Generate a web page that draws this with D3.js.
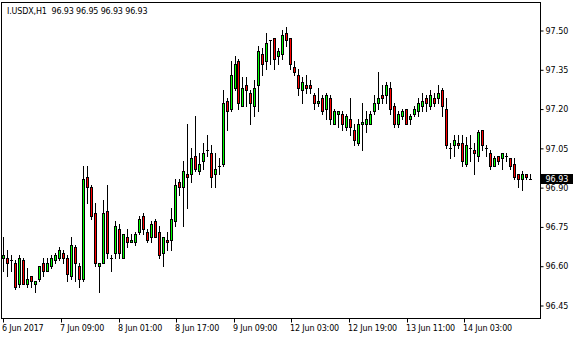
<!DOCTYPE html>
<html>
<head>
<meta charset="utf-8">
<script src="https://cdn.jsdelivr.net/npm/d3@7"></script>
<style>
  body { margin: 0; background: #fff; }
  svg { display: block; }
  text { font-family: "DejaVu Sans", sans-serif; font-size: 8px; fill: #000; }
  .narrow { letter-spacing: -0.15px; }
</style>
</head>
<body>
<svg id="chart" width="580" height="340"></svg>
<script>
// I.USDX H1 bars (oldest first)
var symbol = "I.USDX,H1";
var open = [96.63,96.63,96.62,96.61,96.53,96.62,96.53,96.56,96.53,96.55,
  96.61,96.58,96.60,96.62,96.63,96.65,96.63,96.56,96.67,96.60,
  96.55,96.94,96.90,96.80,96.60,96.61,96.81,96.63,96.65,96.74,
  96.63,96.71,96.69,96.69,96.73,96.79,96.73,96.71,96.77,96.73,
  96.65,96.70,96.70,96.77,96.92,96.90,96.95,96.95,97.02,96.96,
  97.00,97.04,97.03,96.95,96.98,96.99,97.23,97.20,97.28,97.38,
  97.21,97.29,97.26,97.21,97.29,97.41,97.38,97.46,97.47,97.40,
  97.41,97.49,97.47,97.36,97.33,97.27,97.29,97.29,97.25,97.22,
  97.24,97.20,97.24,97.14,97.18,97.18,97.13,97.16,97.12,97.07,
  97.14,97.14,97.14,97.19,97.22,97.25,97.25,97.28,97.21,97.14,
  97.17,97.20,97.16,97.18,97.19,97.21,97.24,97.21,97.24,97.24,
  97.27,97.20,97.05,97.06,97.07,97.07,96.99,97.05,97.04,97.02,
  97.12,97.05,97.03,96.98,97.02,97.01,97.02,97.01,96.99,96.95,
  96.93,96.95,96.93];
var high = [96.71,96.66,96.64,96.62,96.64,96.63,96.59,96.56,96.54,96.60,
  96.63,96.63,96.64,96.65,96.67,96.66,96.64,96.71,96.68,96.61,
  96.98,96.98,96.91,96.84,96.61,96.85,96.91,96.64,96.77,96.76,
  96.72,96.74,96.72,96.73,96.79,96.80,96.74,96.77,96.78,96.75,
  96.71,96.73,96.82,96.93,96.93,97.00,97.14,97.05,97.17,97.03,
  97.07,97.10,97.06,97.03,97.01,97.27,97.24,97.38,97.40,97.39,
  97.32,97.32,97.27,97.31,97.44,97.43,97.49,97.46,97.47,97.43,
  97.50,97.51,97.47,97.38,97.35,97.32,97.33,97.31,97.26,97.28,
  97.25,97.26,97.25,97.20,97.19,97.19,97.18,97.24,97.14,97.16,
  97.22,97.19,97.19,97.25,97.34,97.29,97.30,97.30,97.22,97.19,
  97.20,97.20,97.18,97.21,97.24,97.26,97.25,97.27,97.26,97.29,
  97.28,97.24,97.07,97.10,97.10,97.10,97.09,97.10,97.07,97.12,
  97.12,97.06,97.04,97.02,97.02,97.03,97.03,97.01,97.01,96.95,
  96.96,96.95,96.95];
var low = [96.58,96.56,96.58,96.51,96.52,96.53,96.52,96.52,96.50,96.54,
  96.56,96.58,96.59,96.61,96.62,96.61,96.54,96.55,96.54,96.52,
  96.54,96.84,96.78,96.60,96.50,96.61,96.63,96.58,96.63,96.63,
  96.63,96.67,96.69,96.68,96.72,96.72,96.69,96.69,96.71,96.63,
  96.60,96.66,96.66,96.75,96.87,96.75,96.82,96.92,96.96,96.95,
  96.97,97.02,96.90,96.90,96.95,96.98,97.12,97.19,97.27,97.20,
  97.21,97.21,97.14,97.17,97.19,97.33,97.35,97.37,97.35,97.37,
  97.39,97.44,97.35,97.33,97.25,97.22,97.26,97.26,97.20,97.21,
  97.18,97.16,97.14,97.14,97.13,97.12,97.12,97.10,97.06,97.06,
  97.04,97.11,97.14,97.18,97.20,97.22,97.22,97.18,97.13,97.13,
  97.16,97.14,97.14,97.17,97.17,97.19,97.19,97.20,97.21,97.22,
  97.17,97.05,97.01,97.02,97.05,96.98,96.98,97.00,96.95,97.00,
  97.04,97.02,96.97,96.98,96.99,96.97,97.00,96.97,96.93,96.90,
  96.89,96.93,96.93];
var close = [96.64,96.61,96.62,96.52,96.63,96.53,96.55,96.54,96.54,96.60,
  96.58,96.61,96.63,96.64,96.66,96.63,96.57,96.68,96.61,96.55,
  96.93,96.90,96.79,96.61,96.61,96.80,96.65,96.63,96.75,96.65,
  96.72,96.69,96.70,96.72,96.78,96.74,96.70,96.76,96.71,96.64,
  96.71,96.69,96.78,96.91,96.90,96.96,96.94,97.01,96.97,96.99,
  97.03,97.04,96.94,96.97,96.98,97.22,97.19,97.33,97.37,97.22,
  97.28,97.27,97.22,97.28,97.42,97.37,97.45,97.46,97.39,97.42,
  97.48,97.46,97.37,97.34,97.28,97.30,97.28,97.28,97.22,97.23,
  97.19,97.25,97.16,97.19,97.19,97.14,97.17,97.13,97.08,97.14,
  97.15,97.16,97.18,97.22,97.24,97.24,97.29,97.20,97.14,97.18,
  97.19,97.14,97.17,97.20,97.22,97.23,97.22,97.25,97.22,97.26,
  97.21,97.06,97.05,97.08,97.06,97.00,97.06,97.05,97.03,97.11,
  97.06,97.05,96.98,97.01,97.00,97.03,97.02,96.98,96.94,96.93,
  96.95,96.94,96.93];

var priceTicks = [96.45, 96.60, 96.75, 96.90, 97.05, 97.20, 97.35, 97.50];
var timeLabels = ["6 Jun 2017", "7 Jun 09:00", "8 Jun 01:00", "8 Jun 17:00", "9 Jun 09:00",
  "12 Jun 03:00", "12 Jun 19:00", "13 Jun 11:00", "14 Jun 03:00"];
var barsPerLabel = 14.45;

var bars = open.map(function (o, i) {
  return { i: i, o: o, h: high[i], l: low[i], c: close[i] };
});
var last = bars[bars.length - 1];

var svg = d3.select("#chart");
var frame = { left: 1.5, top: 2.5, right: 540.5, bottom: 318.5 };

var x = d3.scaleLinear().domain([0, bars.length - 1]).range([3.3, 529.5]);
var y = d3.scaleLinear().domain([96.45, 97.50]).range([305, 30]);

svg.append("rect").attr("width", 580).attr("height", 340).attr("fill", "#fff");

// frame
svg.append("rect")
  .attr("x", frame.left).attr("y", frame.top)
  .attr("width", frame.right - frame.left).attr("height", frame.bottom - frame.top)
  .attr("fill", "none").attr("stroke", "#000").attr("stroke-width", 1);

// right price axis
var yAxis = svg.append("g")
  .attr("transform", "translate(" + frame.right + ",0.5)")
  .call(d3.axisRight(y).tickValues(priceTicks).tickSize(3).tickPadding(2)
    .tickFormat(d3.format(".2f")));
yAxis.select(".domain").remove();
yAxis.selectAll("text").attr("dy", "0.34em");

// bottom time axis
var xAxis = svg.append("g")
  .attr("transform", "translate(0," + frame.bottom + ")")
  .call(d3.axisBottom(x).tickValues(timeLabels.map(function (d, k) { return k * barsPerLabel; }))
    .tickSize(4).tickPadding(3)
    .tickFormat(function (d, k) { return timeLabels[k]; }));
xAxis.select(".domain").remove();
xAxis.selectAll(".tick").attr("transform", function (d) {
  return "translate(" + (Math.round(x(d)) + 0.5) + ",0)";
});
xAxis.selectAll("text").attr("class", "narrow").attr("text-anchor", "start").attr("dx", -1.5);

// candles
var g = svg.append("g");
var col = function (d) { return Math.round(x(d.i)); };

g.selectAll(".wick").data(bars).enter().append("line")
  .attr("class", "wick")
  .attr("x1", function (d) { return col(d) + 0.5; })
  .attr("x2", function (d) { return col(d) + 0.5; })
  .attr("y1", function (d) { return Math.round(y(d.h)); })
  .attr("y2", function (d) { return Math.round(y(d.l)) + 1; })
  .attr("stroke", "#000").attr("stroke-width", 1);

var bodies = bars.filter(function (d) {
  return Math.round(y(Math.min(d.o, d.c))) - Math.round(y(Math.max(d.o, d.c))) >= 1;
});
g.selectAll(".body").data(bodies).enter().append("rect")
  .attr("class", "body")
  .attr("x", function (d) { return col(d) - 0.5; })
  .attr("y", function (d) { return Math.round(y(Math.max(d.o, d.c))) + 0.5; })
  .attr("width", 2)
  .attr("height", function (d) {
    return Math.round(y(Math.min(d.o, d.c))) - Math.round(y(Math.max(d.o, d.c)));
  })
  .attr("fill", function (d) { return d.c > d.o ? "#00ff00" : "#ff0000"; })
  .attr("stroke", "#000").attr("stroke-width", 1);

var dojis = bars.filter(function (d) { return bodies.indexOf(d) < 0; });
g.selectAll(".doji").data(dojis).enter().append("line")
  .attr("class", "doji")
  .attr("x1", function (d) { return col(d) - 1; })
  .attr("x2", function (d) { return col(d) + 2; })
  .attr("y1", function (d) { return Math.round(y(d.c)) + 0.5; })
  .attr("y2", function (d) { return Math.round(y(d.c)) + 0.5; })
  .attr("stroke", "#000").attr("stroke-width", 1);

// last price tag
var tagY = Math.round(y(last.c));
svg.append("rect")
  .attr("x", frame.right + 0.5).attr("y", tagY - 5)
  .attr("width", 32).attr("height", 10)
  .attr("fill", "#000");
svg.append("text")
  .attr("x", frame.right + 5).attr("y", tagY).attr("dy", "0.34em")
  .style("fill", "#fff")
  .text(d3.format(".2f")(last.c));

// header
svg.append("text")
  .attr("class", "narrow")
  .attr("x", 7).attr("y", 14)
  .style("white-space", "pre")
  .text(symbol + "  " + [last.o, last.h, last.l, last.c].map(d3.format(".2f")).join(" "));
</script>
</body>
</html>
